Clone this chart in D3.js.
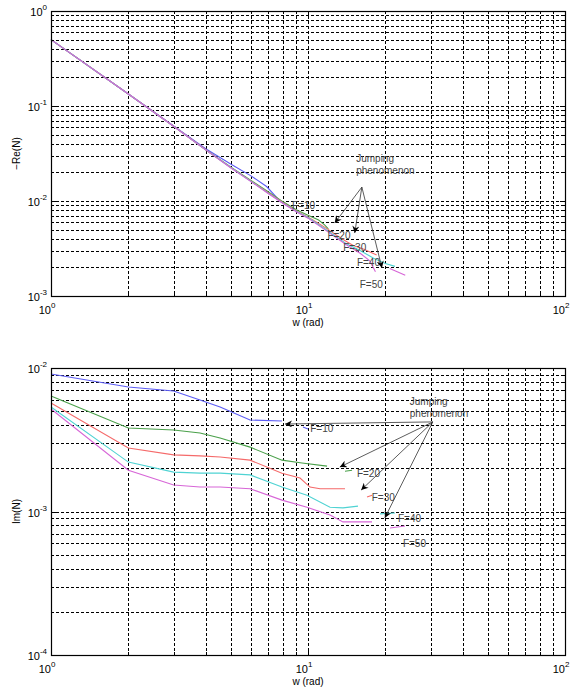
<!DOCTYPE html>
<html>
<head>
<meta charset="utf-8">
<script src="https://cdn.jsdelivr.net/npm/d3@7"></script>
<style>
  body { margin: 0; background: #fff; }
  text { font-family: "Liberation Sans", Arial, sans-serif; }
</style>
</head>
<body>
<script>
// -Re(N) curves, [w, value]; null marks the jump (gap in the curve)
var reF10 = [[1,0.5],[2,0.134],[3,0.0615],[4,0.0355],[5,0.0245],[6,0.0184],[6.9,0.0142],[7.8,0.0099],[8.4,0.0088]];
var reF20 = [[1,0.5],[2,0.134],[3,0.0612],[4,0.0346],[5,0.0228],[6,0.0165],[7,0.0125],[8,0.0098],[9,0.0081],[10,0.0071],[11,0.0063],[11.6,0.0056],[12,0.0051]];
var reF30 = [[1,0.5],[2,0.134],[3,0.0612],[4,0.0346],[5,0.0226],[6,0.0162],[7,0.0122],[8,0.0096],[9,0.0079],[10,0.0068],[11,0.0058],[12,0.0050],[13,0.0043],[14,0.0038],[15,0.0034],[16.5,0.0031],[18.5,0.0027]];
var reF40 = [[1,0.5],[2,0.134],[3,0.0612],[4,0.0345],[5,0.0225],[6,0.0161],[7,0.0121],[8,0.0095],[9,0.0078],[10,0.0067],[12,0.0048],[14,0.0036],[16,0.0030],[18,0.0025],[20,0.0022],[21.8,0.00205]];
var reF50 = [[1,0.5],[2,0.134],[3,0.0612],[4,0.0345],[5,0.0224],[6,0.0160],[7,0.0120],[8,0.0094],[9,0.0077],[10,0.0066],[12,0.0047],[14,0.0035],[16,0.0028],[17.4,0.00235],[18.3,0.0018],null,[20.8,0.00195],[23.9,0.00165]];

// Im(N) curves
var imF10 = [[1,0.00908],[2,0.00738],[3,0.00692],[3.8,0.00599],[4.55,0.00535],[5.95,0.00434],[7.92,0.00427],null,[9.56,0.00388],[10,0.00376]];
var imF20 = [[1,0.00638],[2,0.00382],[3,0.0037],[3.8,0.00352],[4.55,0.00325],[5.95,0.00281],[7.92,0.00228],[9.48,0.00218],[11.86,0.00207],null,[13.93,0.00191],[14.84,0.00194]];
var imF30 = [[1,0.0057],[2,0.00277],[3,0.00248],[3.8,0.00244],[4.55,0.0024],[5.95,0.00228],[7.92,0.00185],[9.31,0.00171],[10.18,0.00148],[11.14,0.00144],[13.93,0.00144],null,[16.97,0.00126],[17.75,0.0013]];
var imF40 = [[1,0.00535],[2,0.00221],[3,0.00188],[3.8,0.00185],[4.55,0.00185],[5.95,0.0018],[7.92,0.00148],[9.91,0.0013],[12.18,0.00107],[13.68,0.00106],[15.65,0.00109],null,[19.06,0.000962],[21.8,0.000977]];
var imF50 = [[1,0.00518],[2,0.00194],[3,0.00153],[3.8,0.00148],[4.55,0.00148],[5.95,0.00144],[7.92,0.0012],[9.91,0.00107],[12.18,0.000946],[13.68,0.000846],[17.75,0.000846],null,[20.85,0.000767],[23.85,0.000792]];

var colors = ['#5c5cf5', '#4aa04a', '#f56a6a', '#4fd3d3', '#d766d7'];
var seriesNames = ['F=10', 'F=20', 'F=30', 'F=40', 'F=50'];

// label positions [w, value]
var reLabels = [[8.66,0.00824],[11.9,0.00398],[13.7,0.00298],[15.5,0.00207],[15.9,0.00121]];
var imLabels = [[10.2,0.00358],[15.5,0.00174],[17.7,0.00118],[22.4,0.000845],[23.4,0.000566]];

// arrows: origin and heads
var reArrowFrom = [16.2, 0.0140];
var reArrowTo = [[12.7,0.00586],[15.2,0.0046],[19.4,0.00197]];
var imArrowFrom = [30.6, 0.00421];
var imArrowTo = [[8.14,0.00407],[13.3,0.00204],[16.1,0.00141],[19.9,0.000902]];
var reNote = [15.4, 0.0257];
var imNote = [24.9, 0.00552];

var W = 587, H = 689;
var svg = d3.select('body').append('svg').attr('width', W).attr('height', H);

svg.append('defs').append('marker')
  .attr('id', 'head')
  .attr('viewBox', '0 0 10 10')
  .attr('refX', 10).attr('refY', 5)
  .attr('markerWidth', 9).attr('markerHeight', 7)
  .attr('markerUnits', 'userSpaceOnUse')
  .attr('orient', 'auto')
  .append('path').attr('d', 'M0,0 L10,5 L0,10 L3,5 Z').attr('fill', '#000');

function decadeValues(lo, hi) {
  var out = [];
  for (var e = Math.log10(lo); e < Math.log10(hi); e++) {
    for (var k = 1; k < 10; k++) out.push(k * Math.pow(10, e));
  }
  out.push(hi);
  return out;
}

function powLabel(sel, exp) {
  sel.append('tspan').text('10');
  sel.append('tspan').attr('dy', -6).attr('font-size', 8).text(exp);
}

function panel(cfg) {
  var x = d3.scaleLog().domain([1, 100]).range([cfg.left, cfg.right]);
  var y = d3.scaleLog().domain(cfg.ydom).range([cfg.bottom, cfg.top]);
  var g = svg.append('g');

  var xs = decadeValues(1, 100), ys = decadeValues(cfg.ydom[0], cfg.ydom[1]);

  // grid
  g.selectAll('.gx').data(xs.slice(1, -1)).enter().append('line')
    .attr('x1', function(d) { return Math.round(x(d)) + 0.5; })
    .attr('x2', function(d) { return Math.round(x(d)) + 0.5; })
    .attr('y1', cfg.top).attr('y2', cfg.bottom)
    .attr('stroke', '#000').attr('stroke-width', 1).attr('stroke-dasharray', '3,2');
  g.selectAll('.gy').data(ys.slice(1, -1)).enter().append('line')
    .attr('y1', function(d) { return Math.round(y(d)) + 0.5; })
    .attr('y2', function(d) { return Math.round(y(d)) + 0.5; })
    .attr('x1', cfg.left).attr('x2', cfg.right)
    .attr('stroke', '#000').attr('stroke-width', 1).attr('stroke-dasharray', '3,2');

  // curves
  var line = d3.line()
    .defined(function(d) { return d != null; })
    .x(function(d) { return x(d[0]); })
    .y(function(d) { return y(d[1]); });
  cfg.series.forEach(function(s, i) {
    g.append('path').attr('d', line(s))
      .attr('fill', 'none').attr('stroke', colors[i]).attr('stroke-width', 1.1);
  });

  // labels
  g.selectAll('.lab').data(cfg.labels).enter().append('text')
    .attr('x', function(d) { return x(d[0]); })
    .attr('y', function(d) { return y(d[1]); })
    .attr('font-size', 10).attr('fill', '#444')
    .text(function(d, i) { return seriesNames[i]; });

  // arrows
  g.selectAll('.arr').data(cfg.arrowTo).enter().append('line')
    .attr('x1', x(cfg.arrowFrom[0])).attr('y1', y(cfg.arrowFrom[1]))
    .attr('x2', function(d) { return x(d[0]); })
    .attr('y2', function(d) { return y(d[1]); })
    .attr('stroke', '#333').attr('stroke-width', 0.8)
    .attr('marker-end', 'url(#head)');

  var note = g.append('text')
    .attr('x', x(cfg.note[0])).attr('y', y(cfg.note[1]))
    .attr('font-size', 10).attr('fill', '#444');
  note.append('tspan').text('Jumping');
  note.append('tspan').attr('x', x(cfg.note[0])).attr('dy', 12).text('phenomenon');

  // frame and ticks
  g.append('rect')
    .attr('x', cfg.left + 0.5).attr('y', cfg.top + 0.5)
    .attr('width', cfg.right - cfg.left).attr('height', cfg.bottom - cfg.top)
    .attr('fill', 'none').attr('stroke', '#000').attr('stroke-width', 1.2);

  xs.forEach(function(d, i) {
    var len = (i % 9 === 0) ? 5 : 3, px = Math.round(x(d)) + 0.5;
    g.append('line').attr('x1', px).attr('x2', px).attr('y1', cfg.bottom).attr('y2', cfg.bottom - len).attr('stroke', '#000');
    g.append('line').attr('x1', px).attr('x2', px).attr('y1', cfg.top).attr('y2', cfg.top + len).attr('stroke', '#000');
  });
  ys.forEach(function(d, i) {
    var len = (i % 9 === 0) ? 5 : 3, py = Math.round(y(d)) + 0.5;
    g.append('line').attr('y1', py).attr('y2', py).attr('x1', cfg.left).attr('x2', cfg.left + len).attr('stroke', '#000');
    g.append('line').attr('y1', py).attr('y2', py).attr('x1', cfg.right).attr('x2', cfg.right - len).attr('stroke', '#000');
  });

  // tick labels
  [1, 10, 100].forEach(function(d) {
    var t = g.append('text').attr('x', x(d) - 4).attr('y', cfg.bottom + 18)
      .attr('font-size', 11).attr('text-anchor', 'middle');
    powLabel(t, String(Math.round(Math.log10(d))));
  });
  ys.filter(function(d, i) { return i % 9 === 0; }).forEach(function(d) {
    var t = g.append('text').attr('x', cfg.left - 4).attr('y', y(d) + 5)
      .attr('font-size', 11).attr('text-anchor', 'end');
    powLabel(t, String(Math.round(Math.log10(d))));
  });

  g.append('text').attr('x', (cfg.left + cfg.right) / 2).attr('y', cfg.bottom + 30)
    .attr('font-size', 10).attr('text-anchor', 'middle').text('w (rad)');
  g.append('text')
    .attr('transform', 'translate(20,' + ((cfg.top + cfg.bottom) / 2) + ') rotate(-90)')
    .attr('font-size', 10).attr('text-anchor', 'middle').text(cfg.ylabel);
}

panel({ left: 51, right: 565, top: 11, bottom: 296, ydom: [1e-3, 1],
  series: [reF10, reF20, reF30, reF40, reF50], labels: reLabels,
  arrowFrom: reArrowFrom, arrowTo: reArrowTo, note: reNote, ylabel: '\u2212Re(N)' });

panel({ left: 51, right: 565, top: 368, bottom: 655, ydom: [1e-4, 1e-2],
  series: [imF10, imF20, imF30, imF40, imF50], labels: imLabels,
  arrowFrom: imArrowFrom, arrowTo: imArrowTo, note: imNote, ylabel: 'Im(N)' });
</script>
</body>
</html>
